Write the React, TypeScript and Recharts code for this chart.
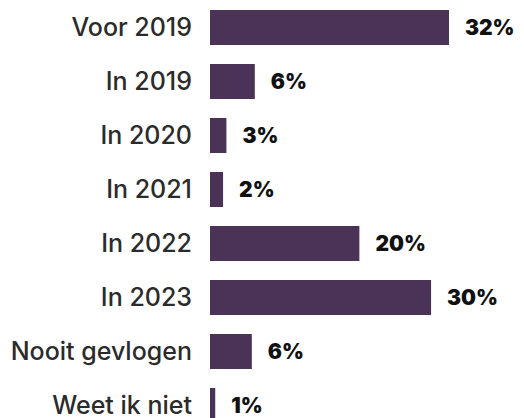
import React from "react";
import { BarChart, Bar, XAxis, YAxis, LabelList } from "recharts";

const CATEGORIES = [
  "Voor 2019",
  "In 2019",
  "In 2020",
  "In 2021",
  "In 2022",
  "In 2023",
  "Nooit gevlogen",
  "Weet ik niet",
];
const SHARES = [32, 6, 2.2, 1.75, 20, 29.6, 5.6, 0.7];
const SHARE_LABELS = ["32%", "6%", "3%", "2%", "20%", "30%", "6%", "1%"];

const data = CATEGORIES.map((categorie, i) => ({
  categorie,
  aandeel: SHARES[i],
  label: SHARE_LABELS[i],
}));

const FONT = "Inter, 'Noto Sans', sans-serif";

const App = () => (
  <div style={{ position: "absolute", left: 0, top: 0, width: 524, height: 418, overflow: "hidden", background: "#fff" }}>
    <BarChart
      width={524}
      height={432}
      data={data}
      layout="vertical"
      margin={{ top: 0, right: 75, left: 0, bottom: 0 }}
      barCategoryGap={19}
    >
      <XAxis type="number" domain={[0, 32]} hide allowDataOverflow />
      <YAxis
        dataKey="categorie"
        type="category"
        width={210}
        axisLine={false}
        tickLine={false}
        tickSize={0}
        tickMargin={18}
        tick={{ fill: "#2b2b2b", fontSize: 25, fontWeight: 500, fontFamily: FONT }}
      />
      <Bar dataKey="aandeel" fill="#4a3356" barSize={35} isAnimationActive={false}>
        <LabelList
          dataKey="label"
          position="right"
          offset={16}
          style={{ fill: "#111", fontSize: 21, fontWeight: 900, fontFamily: FONT }}
        />
      </Bar>
    </BarChart>
  </div>
);

export default App;
